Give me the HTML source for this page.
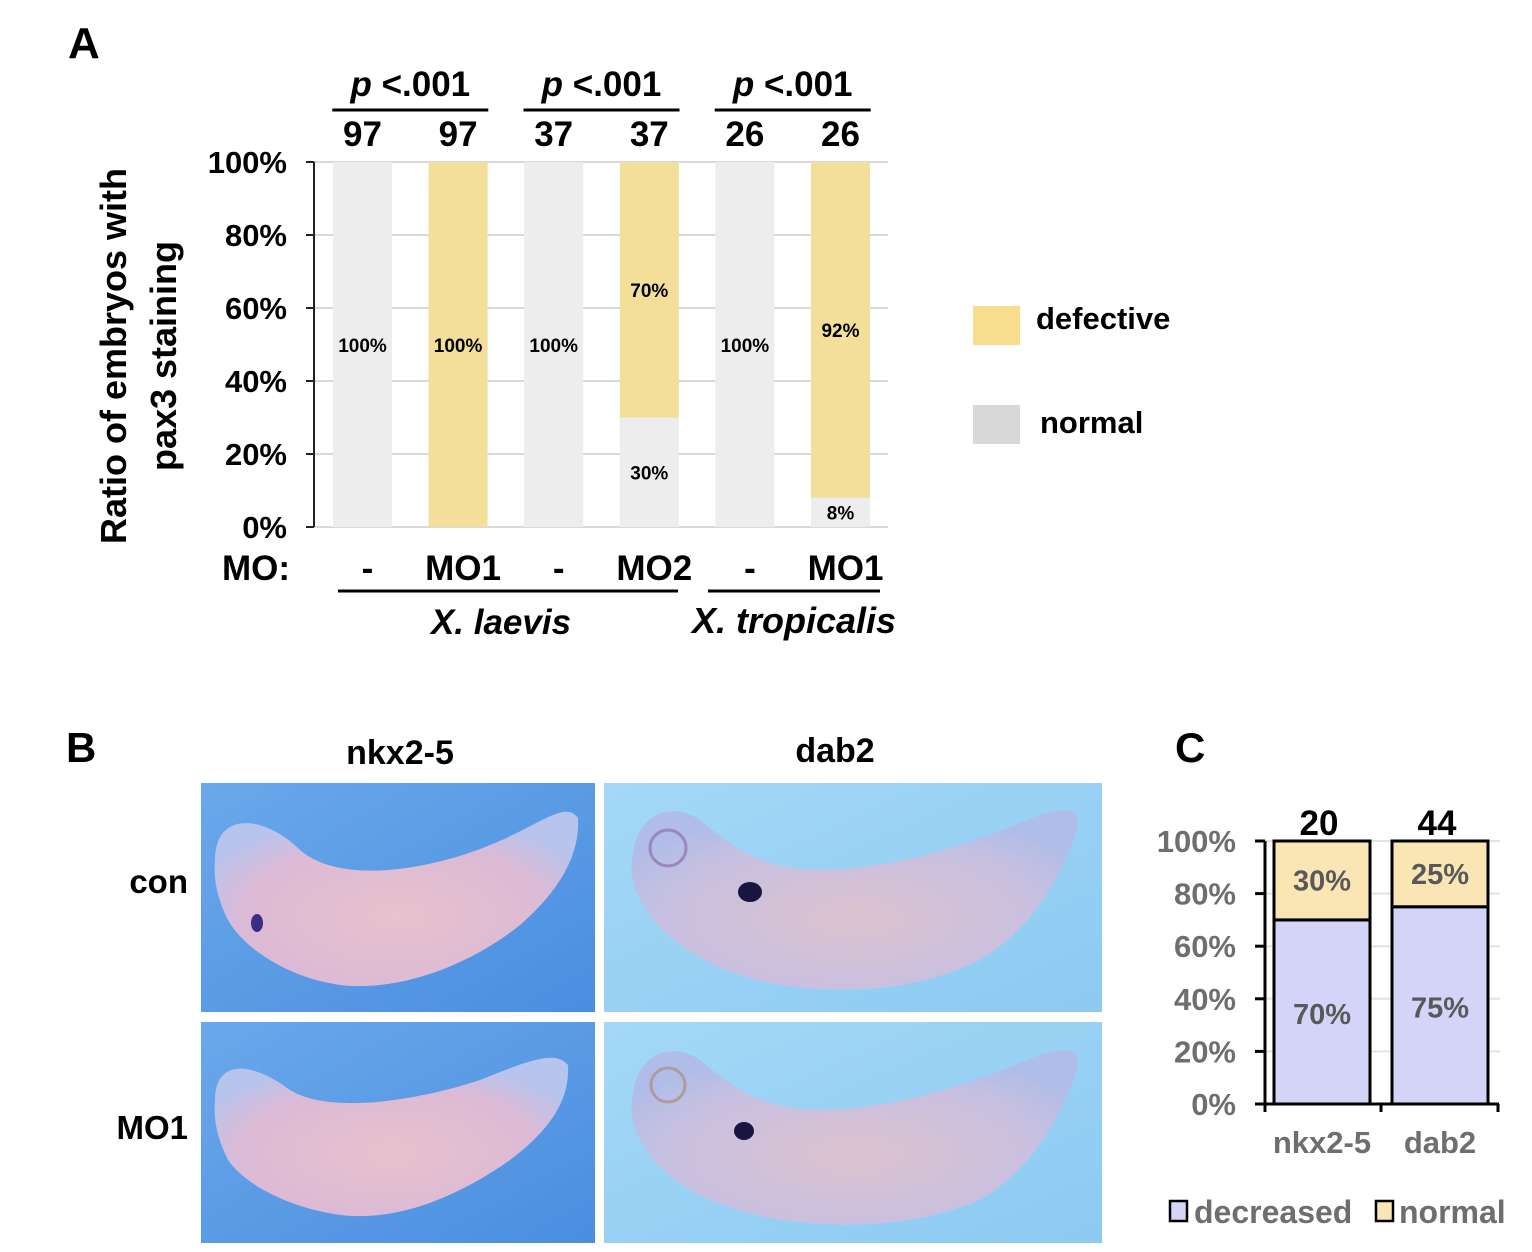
<!DOCTYPE html>
<html><head><meta charset="utf-8"><style>
body{margin:0;background:#fff;}
svg{display:block;font-family:"Liberation Sans",Arial,sans-serif;}
</style></head><body>
<svg id="fig" width="1532" height="1252" viewBox="0 0 1532 1252" xmlns="http://www.w3.org/2000/svg">
<defs>
<linearGradient id="bgL" x1="0" y1="0" x2="1" y2="1"><stop offset="0" stop-color="#6aa8ea"/><stop offset="1" stop-color="#4a8ee0"/></linearGradient>
<linearGradient id="bgR" x1="0" y1="0" x2="1" y2="1"><stop offset="0" stop-color="#a4d8f6"/><stop offset="1" stop-color="#8ccaf2"/></linearGradient>
<radialGradient id="embL" cx="0.5" cy="0.6" r="0.6"><stop offset="0" stop-color="#e8c2cc"/><stop offset="0.7" stop-color="#dcbad6"/><stop offset="1" stop-color="#b6c4ee"/></radialGradient>
<radialGradient id="embR" cx="0.5" cy="0.6" r="0.6"><stop offset="0" stop-color="#dcc2cf"/><stop offset="0.7" stop-color="#c8c0e0"/><stop offset="1" stop-color="#b0bde8"/></radialGradient>
</defs>
<g id="panelA"></g>
<g id="panelB">
 <text x="66" y="762" font-size="42" font-weight="bold">B</text>
 <text x="400" y="764" font-size="34" font-weight="bold" text-anchor="middle">nkx2-5</text>
 <text x="835" y="762" font-size="34" font-weight="bold" text-anchor="middle">dab2</text>
 <text x="188" y="893" font-size="33" font-weight="bold" text-anchor="end">con</text>
 <text x="188" y="1139" font-size="33" font-weight="bold" text-anchor="end">MO1</text>
 <g>
  <rect x="201" y="783" width="394" height="229" fill="url(#bgL)"/>
  <path d="M215,860 C215,810 265,815 300,850 C340,885 430,870 490,845 C540,825 565,800 578,818 C580,855 560,890 520,925 C470,965 400,992 340,985 C290,978 245,950 228,920 C218,900 213,880 215,860Z" fill="url(#embL)"/>
  <ellipse cx="257" cy="923" rx="6" ry="9" fill="#3a2e80"/>
 </g>
 <g>
  <rect x="201" y="1022" width="394" height="221" fill="url(#bgL)"/>
  <path d="M215,1100 C215,1060 250,1060 290,1090 C330,1115 420,1100 480,1080 C530,1060 555,1050 568,1065 C570,1100 550,1130 510,1160 C460,1195 400,1222 340,1215 C290,1208 245,1185 228,1160 C218,1140 213,1120 215,1100Z" fill="url(#embL)"/>
 </g>
 <g>
  <rect x="604" y="783" width="498" height="229" fill="url(#bgR)"/>
  <path d="M632,860 C635,815 670,800 700,820 C730,845 760,870 820,870 C900,870 980,840 1040,815 C1070,805 1085,810 1075,835 C1060,880 1030,930 980,960 C920,990 850,995 780,985 C720,975 670,945 650,915 C635,895 630,880 632,860Z" fill="url(#embR)"/>
  <ellipse cx="750" cy="892" rx="12" ry="10" fill="#1a1440"/>
  <ellipse cx="668" cy="848" rx="18" ry="18" fill="none" stroke="#9a86c0" stroke-width="3"/>
 </g>
 <g>
  <rect x="604" y="1022" width="498" height="221" fill="url(#bgR)"/>
  <path d="M632,1100 C635,1055 670,1040 700,1060 C730,1085 760,1110 820,1110 C900,1110 980,1080 1040,1055 C1070,1045 1085,1050 1075,1075 C1060,1120 1030,1170 980,1200 C920,1225 850,1230 780,1220 C720,1210 670,1185 650,1155 C635,1135 630,1120 632,1100Z" fill="url(#embR)"/>
  <ellipse cx="744" cy="1131" rx="10" ry="9" fill="#1a1440"/>
  <ellipse cx="668" cy="1085" rx="17" ry="17" fill="none" stroke="#b09aa0" stroke-width="3"/>
 </g>
</g>
<g id="panelC"></g>
</svg>
<script>
// Panel A data
const aCategories = ["-", "MO1", "-", "MO2", "-", "MO1"];
const aCounts = ["97", "97", "37", "37", "26", "26"];
const aNormal = [100, 0, 100, 30, 100, 8];
const aDefective = [0, 100, 0, 70, 0, 92];
const aTicks = [0, 20, 40, 60, 80, 100];
const aPvals = ["p <.001", "p <.001", "p <.001"];
// Panel C data
const cCategories = ["nkx2-5", "dab2"];
const cCounts = ["20", "44"];
const cDecreased = [70, 75];
const cNormal = [30, 25];
const cTicks = [0, 20, 40, 60, 80, 100];

const NS = "http://www.w3.org/2000/svg";
function mk(parent, tag, attrs, txt){
  const e = document.createElementNS(NS, tag);
  for (const k in attrs) e.setAttribute(k, attrs[k]);
  if (txt !== undefined) e.textContent = txt;
  parent.appendChild(e); return e;
}
// ---------- Panel A ----------
const A = document.getElementById('panelA');
const ay = v => 527 - v * 3.65;
const ax = i => 362.5 + i * 95.6;
const bw = 59;
let t = mk(A,'text',{x:68,y:58,'font-size':44,'font-weight':'bold'},'A');


aTicks.forEach(v=>{
  const g = mk(A,'line',{x1:314,x2:888,y1:ay(v),y2:ay(v),stroke:'#d9d9d9','stroke-width':2});
  
  
  mk(A,'line',{x1:306,x2:314,y1:ay(v),y2:ay(v),stroke:'#222','stroke-width':2});
  const l = mk(A,'text',{x:287,y:ay(v)+11,'font-size':31,'font-weight':'bold','text-anchor':'end'},v+'%');
  
  
});
mk(A,'line',{x1:314,x2:314,y1:ay(100),y2:ay(0),stroke:'#222','stroke-width':2});
aCategories.forEach((c,i)=>{
  const x = ax(i) - bw/2;
  const r1 = mk(A,'rect',{x:x,y:ay(aNormal[i]),width:bw,height:ay(0)-ay(aNormal[i]),fill:'#ededed'});
  
  
  const r2 = mk(A,'rect',{x:x,y:ay(aNormal[i]+aDefective[i]),width:bw,height:ay(aNormal[i])-ay(aNormal[i]+aDefective[i]),fill:'#f3df9a'});
  
  
  if (aNormal[i]>0){
    const ly = aDefective[i]===0 ? 352 : ay(aNormal[i]/2)+7;
    const lb = mk(A,'text',{x:ax(i),y:ly,'font-size':19,'font-weight':'bold','text-anchor':'middle'},aNormal[i]+'%');
    
    
  }
  if (aDefective[i]>0){
    const ly = aNormal[i]===0 ? 352 : ay(aNormal[i]+aDefective[i]/2)+7;
    const lb = mk(A,'text',{x:ax(i),y:ly,'font-size':19,'font-weight':'bold','text-anchor':'middle'},aDefective[i]+'%');
    
    
  }
  const n = mk(A,'text',{x:ax(i),y:146,'font-size':35,'font-weight':'bold','text-anchor':'middle'},aCounts[i]);
  
  
  const cl = mk(A,'text',{x:ax(i)+5,y:580,'font-size':35,'font-weight':'bold','text-anchor':'middle'},c);
  
  
});
aPvals.forEach((p,k)=>{
  const cx = (ax(2*k)+ax(2*k+1))/2;
  mk(A,'line',{x1:cx-78,x2:cx+78,y1:110,y2:110,stroke:'#000','stroke-width':3});
  const pt = mk(A,'text',{x:cx,y:96,'font-size':35,'font-weight':'bold','text-anchor':'middle'});
  
  
  mk(pt,'tspan',{'font-style':'italic'},'p');
  mk(pt,'tspan',{},' <.001');
});
t = mk(A,'text',{x:222,y:580,'font-size':35,'font-weight':'bold'},'MO:');


mk(A,'line',{x1:338,x2:678,y1:591,y2:591,stroke:'#000','stroke-width':3});
mk(A,'line',{x1:708,x2:880,y1:591,y2:591,stroke:'#000','stroke-width':3});
t = mk(A,'text',{x:501,y:634,'font-size':35,'font-weight':'bold','font-style':'italic','text-anchor':'middle'},'X. laevis');


t = mk(A,'text',{x:794,y:633,'font-size':36,'font-weight':'bold','font-style':'italic','text-anchor':'middle'},'X. tropicalis');


t = mk(A,'text',{'font-size':36,'font-weight':'bold','text-anchor':'middle',transform:'translate(126,356) rotate(-90)'},'Ratio of embryos with');


t = mk(A,'text',{'font-size':36,'font-weight':'bold','text-anchor':'middle',transform:'translate(176,356) rotate(-90)'},'pax3 staining');


let lg = mk(A,'rect',{x:973,y:306,width:47,height:39,fill:'#f8dd8f'});


t = mk(A,'text',{x:1036,y:329,'font-size':31,'font-weight':'bold'},'defective');


lg = mk(A,'rect',{x:973,y:405,width:47,height:39,fill:'#d8d8d8'});


t = mk(A,'text',{x:1040,y:433,'font-size':31,'font-weight':'bold'},'normal');



// ---------- Panel C ----------
const C = document.getElementById('panelC');
const cy = v => 1104 - v * 2.63;
const cx = i => 1322 + i * 118;
const cbw = 96;
t = mk(C,'text',{x:1175,y:762,'font-size':42,'font-weight':'bold'},'C');


cTicks.forEach(v=>{
  mk(C,'line',{x1:1265,x2:1500,y1:cy(v),y2:cy(v),stroke:'#e3e3e3','stroke-width':2});
  mk(C,'line',{x1:1255,x2:1265,y1:cy(v),y2:cy(v),stroke:'#000','stroke-width':3});
  const l = mk(C,'text',{x:1236,y:cy(v)+11,'font-size':31,'font-weight':'bold','fill':'#6e6e6e','text-anchor':'end'},v+'%');
  
  
});
cCategories.forEach((c,i)=>{
  const x = cx(i)-cbw/2;
  const r1 = mk(C,'rect',{x:x,y:cy(cDecreased[i]),width:cbw,height:cy(0)-cy(cDecreased[i]),fill:'#d4d4f8',stroke:'#000','stroke-width':3});
  
  
  const r2 = mk(C,'rect',{x:x,y:cy(cDecreased[i]+cNormal[i]),width:cbw,height:cy(cDecreased[i])-cy(cDecreased[i]+cNormal[i]),fill:'#fae5b4',stroke:'#000','stroke-width':3});
  
  
  let lb = mk(C,'text',{x:cx(i),y:cy(cDecreased[i]/2)+12,'font-size':29,'font-weight':'bold',fill:'#595959','text-anchor':'middle'},cDecreased[i]+'%');
  
  
  lb = mk(C,'text',{x:cx(i),y:cy(cDecreased[i]+cNormal[i]/2)+10,'font-size':29,'font-weight':'bold',fill:'#595959','text-anchor':'middle'},cNormal[i]+'%');
  
  
  const n = mk(C,'text',{x:cx(i)-3,y:835,'font-size':35,'font-weight':'bold','text-anchor':'middle'},cCounts[i]);
  
  
  const cl = mk(C,'text',{x:cx(i),y:1153,'font-size':31,'font-weight':'bold',fill:'#6e6e6e','text-anchor':'middle'},c);
  
  
});
mk(C,'line',{x1:1265,x2:1265,y1:cy(100),y2:cy(0)+8,stroke:'#000','stroke-width':3});
mk(C,'line',{x1:1255,x2:1499,y1:cy(0),y2:cy(0),stroke:'#000','stroke-width':3});
mk(C,'line',{x1:1381,x2:1381,y1:cy(0),y2:cy(0)+8,stroke:'#000','stroke-width':3});
mk(C,'line',{x1:1498,x2:1498,y1:cy(0),y2:cy(0)+8,stroke:'#000','stroke-width':3});
lg = mk(C,'rect',{x:1170,y:1201,width:17,height:20,fill:'#d4d4f8',stroke:'#000','stroke-width':2.5});


t = mk(C,'text',{x:1194,y:1223,'font-size':32,'font-weight':'bold',fill:'#6e6e6e'},'decreased');


lg = mk(C,'rect',{x:1376,y:1201,width:17,height:20,fill:'#fae5b4',stroke:'#000','stroke-width':2.5});


t = mk(C,'text',{x:1399,y:1223,'font-size':32,'font-weight':'bold',fill:'#6e6e6e'},'normal');


</script>
</body></html>
